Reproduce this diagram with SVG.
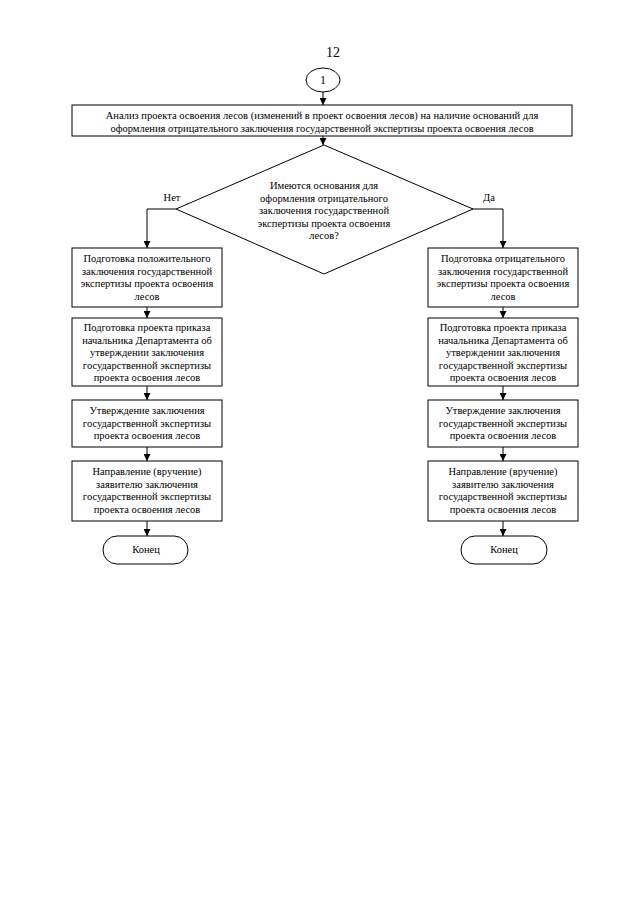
<svg xmlns="http://www.w3.org/2000/svg" width="640" height="905" viewBox="0 0 640 905">
<defs>
<marker id="ah" viewBox="0 0 8 8" refX="8" refY="4" markerWidth="7" markerHeight="7" markerUnits="userSpaceOnUse" orient="auto">
<path d="M0,0 L8,4 L0,8 Z" fill="#000"/>
</marker>
<style>
.s{fill:#fff;stroke:#000;stroke-width:1}
.c{fill:none;stroke:#000;stroke-width:1;marker-end:url(#ah)}
.l{fill:none;stroke:#000;stroke-width:1}
text{font-family:"Liberation Serif","Times New Roman",serif;font-size:10.5px;fill:#000;text-anchor:middle}
</style>
</defs>
<rect width="640" height="905" fill="#fff"/>
<text x="333" y="57" style="font-size:14px">12</text>

<g id="connectors">
<line class="c" x1="323" y1="92" x2="323" y2="105"/>
<line class="c" x1="323" y1="136" x2="323" y2="145"/>
<polyline class="c" points="176,209 147,209 147,248"/>
<polyline class="c" points="472,209 503,209 503,248"/>
<line class="c" x1="147" y1="307" x2="147" y2="318"/>
<line class="c" x1="147" y1="386" x2="147" y2="400"/>
<line class="c" x1="147" y1="447" x2="147" y2="461"/>
<line class="c" x1="147" y1="521" x2="147" y2="536"/>
<line class="c" x1="503" y1="307" x2="503" y2="318"/>
<line class="c" x1="503" y1="386" x2="503" y2="400"/>
<line class="c" x1="503" y1="447" x2="503" y2="461"/>
<line class="c" x1="503" y1="521" x2="503" y2="536"/>
<text x="172" y="201">Нет</text>
<text x="489" y="201">Да</text>
</g>

<g id="start">
<ellipse class="s" cx="323" cy="80" rx="17" ry="12"/>
<text x="323" y="84" style="font-size:12px">1</text>
</g>

<g id="analysis">
<rect class="s" x="72" y="105" width="500" height="31"/>
<text x="322" y="119">Анализ проекта освоения лесов (изменений в проект освоения лесов) на наличие оснований для</text>
<text x="322" y="131.5">оформления отрицательного заключения государственной экспертизы проекта освоения лесов</text>
</g>

<g id="decision">
<polygon class="s" points="324,145 473,209 324,274 176,209"/>
<text x="324" y="189">Имеются основания для</text>
<text x="324" y="201.5">оформления отрицательного</text>
<text x="324" y="214">заключения государственной</text>
<text x="324" y="226.5">экспертизы проекта освоения</text>
<text x="324" y="239">лесов?</text>
</g>

<g id="left1">
<rect class="s" x="72" y="248" width="150" height="59"/>
<text x="147" y="262">Подготовка положительного</text>
<text x="147" y="274.5">заключения государственной</text>
<text x="147" y="287">экспертизы проекта освоения</text>
<text x="147" y="299.5">лесов</text>
</g>
<g id="left2">
<rect class="s" x="72" y="318" width="150" height="68"/>
<text x="147" y="331">Подготовка проекта приказа</text>
<text x="147" y="343.5">начальника Департамента об</text>
<text x="147" y="356">утверждении заключения</text>
<text x="147" y="368.5">государственной экспертизы</text>
<text x="147" y="381">проекта освоения лесов</text>
</g>
<g id="left3">
<rect class="s" x="72" y="400" width="150" height="47"/>
<text x="147" y="414">Утверждение заключения</text>
<text x="147" y="426.5">государственной экспертизы</text>
<text x="147" y="439">проекта освоения лесов</text>
</g>
<g id="left4">
<rect class="s" x="72" y="461" width="150" height="60"/>
<text x="147" y="475">Направление (вручение)</text>
<text x="147" y="487.5">заявителю заключения</text>
<text x="147" y="500">государственной экспертизы</text>
<text x="147" y="512.5">проекта освоения лесов</text>
</g>
<g id="left-end">
<rect class="s" x="103" y="536" width="85" height="28" rx="14" ry="14"/>
<text x="146" y="553">Конец</text>
</g>

<g id="right1">
<rect class="s" x="428" y="248" width="150" height="59"/>
<text x="503" y="262">Подготовка отрицательного</text>
<text x="503" y="274.5">заключения государственной</text>
<text x="503" y="287">экспертизы проекта освоения</text>
<text x="503" y="299.5">лесов</text>
</g>
<g id="right2">
<rect class="s" x="428" y="318" width="150" height="68"/>
<text x="503" y="331">Подготовка проекта приказа</text>
<text x="503" y="343.5">начальника Департамента об</text>
<text x="503" y="356">утверждении заключения</text>
<text x="503" y="368.5">государственной экспертизы</text>
<text x="503" y="381">проекта освоения лесов</text>
</g>
<g id="right3">
<rect class="s" x="428" y="400" width="150" height="47"/>
<text x="503" y="414">Утверждение заключения</text>
<text x="503" y="426.5">государственной экспертизы</text>
<text x="503" y="439">проекта освоения лесов</text>
</g>
<g id="right4">
<rect class="s" x="428" y="461" width="150" height="60"/>
<text x="503" y="475">Направление (вручение)</text>
<text x="503" y="487.5">заявителю заключения</text>
<text x="503" y="500">государственной экспертизы</text>
<text x="503" y="512.5">проекта освоения лесов</text>
</g>
<g id="right-end">
<rect class="s" x="461" y="536" width="86" height="28" rx="14" ry="14"/>
<text x="504" y="553">Конец</text>
</g>
</svg>
